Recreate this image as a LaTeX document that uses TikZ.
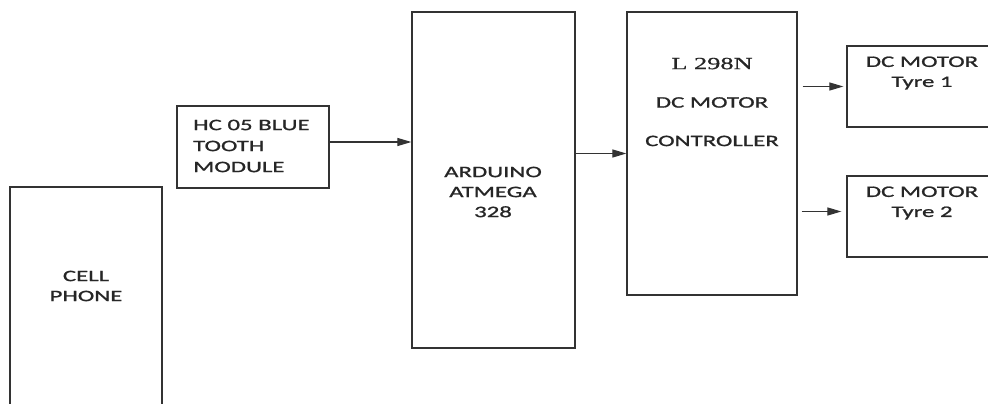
\documentclass[tikz,border=0pt]{standalone}
\usepackage{fontspec}
\setmainfont{Carlito}[FakeStretch=1.55,FakeBold=1.2]
\newfontfamily\serifL{Liberation Serif}[FakeStretch=1.55,FakeBold=0.8]
\usetikzlibrary{arrows.meta,calc}
\tikzstyle{block}=[draw=black!80,line width=1.2pt,rectangle,inner sep=0pt]
\tikzstyle{txt}=[inner sep=0pt,align=center,text=black!85,font=\fontsize{16}{20}\selectfont]
\tikzstyle{arr}=[draw=black!80,line width=1.1pt,-{Triangle[length=14pt,width=8pt]}]

\begin{document}
\begin{tikzpicture}[x=1pt,y=-1pt]
	\clip (0,0) rectangle (988,404);
	% blocks
	\node[block,minimum width=152pt,minimum height=240pt] (phone) at (86,307) {};
	\node[block,minimum width=152pt,minimum height=82pt] (hc05) at (253,147) {};
	\node[block,minimum width=163pt,minimum height=336pt] (arduino) at (493.5,180) {};
	\node[block,minimum width=170pt,minimum height=283pt] (l298) at (712,153.5) {};
	\node[block,minimum width=160pt,minimum height=81pt] (motor1) at (927,86.5) {};
	\node[block,minimum width=160pt,minimum height=81pt] (motor2) at (927,216.5) {};
	% labels
	\node[txt] (phone-t) at (86,286) {CELL\\PHONE};
	\node[txt,align=left,anchor=west,font=\fontsize{16}{21}\selectfont] (hc05-t) at (193,146) {HC 05 BLUE\\TOOTH\\MODULE};
	\node[txt] (arduino-t) at (493,192) {ARDUINO\\ATMEGA\\328};
	\node[txt,font=\fontsize{16}{38.5}\selectfont] (l298-t) at (712,102) {{\serifL\fontsize{17}{38.5}\selectfont L 298N}\\DC MOTOR\\CONTROLLER};
	\node[txt] (motor1-t) at (922,73) {DC MOTOR\\Tyre 1};
	\node[txt] (motor2-t) at (922,203) {DC MOTOR\\Tyre 2};
	% connectors
	\draw[arr] ([yshift=5pt]hc05.east) -- ([yshift=5pt]hc05.east -| arduino.west);
	\draw[arr] (arduino.east |- l298.west) -- (l298.west);
	\draw[arr,shorten <=5pt,shorten >=3pt] (l298.east |- motor1.west) -- (motor1.west);
	\draw[arr,shorten <=4pt,shorten >=5pt] ([yshift=5pt]l298.east |- motor2.west) -- ([yshift=5pt]motor2.west);
\end{tikzpicture}
\end{document}
